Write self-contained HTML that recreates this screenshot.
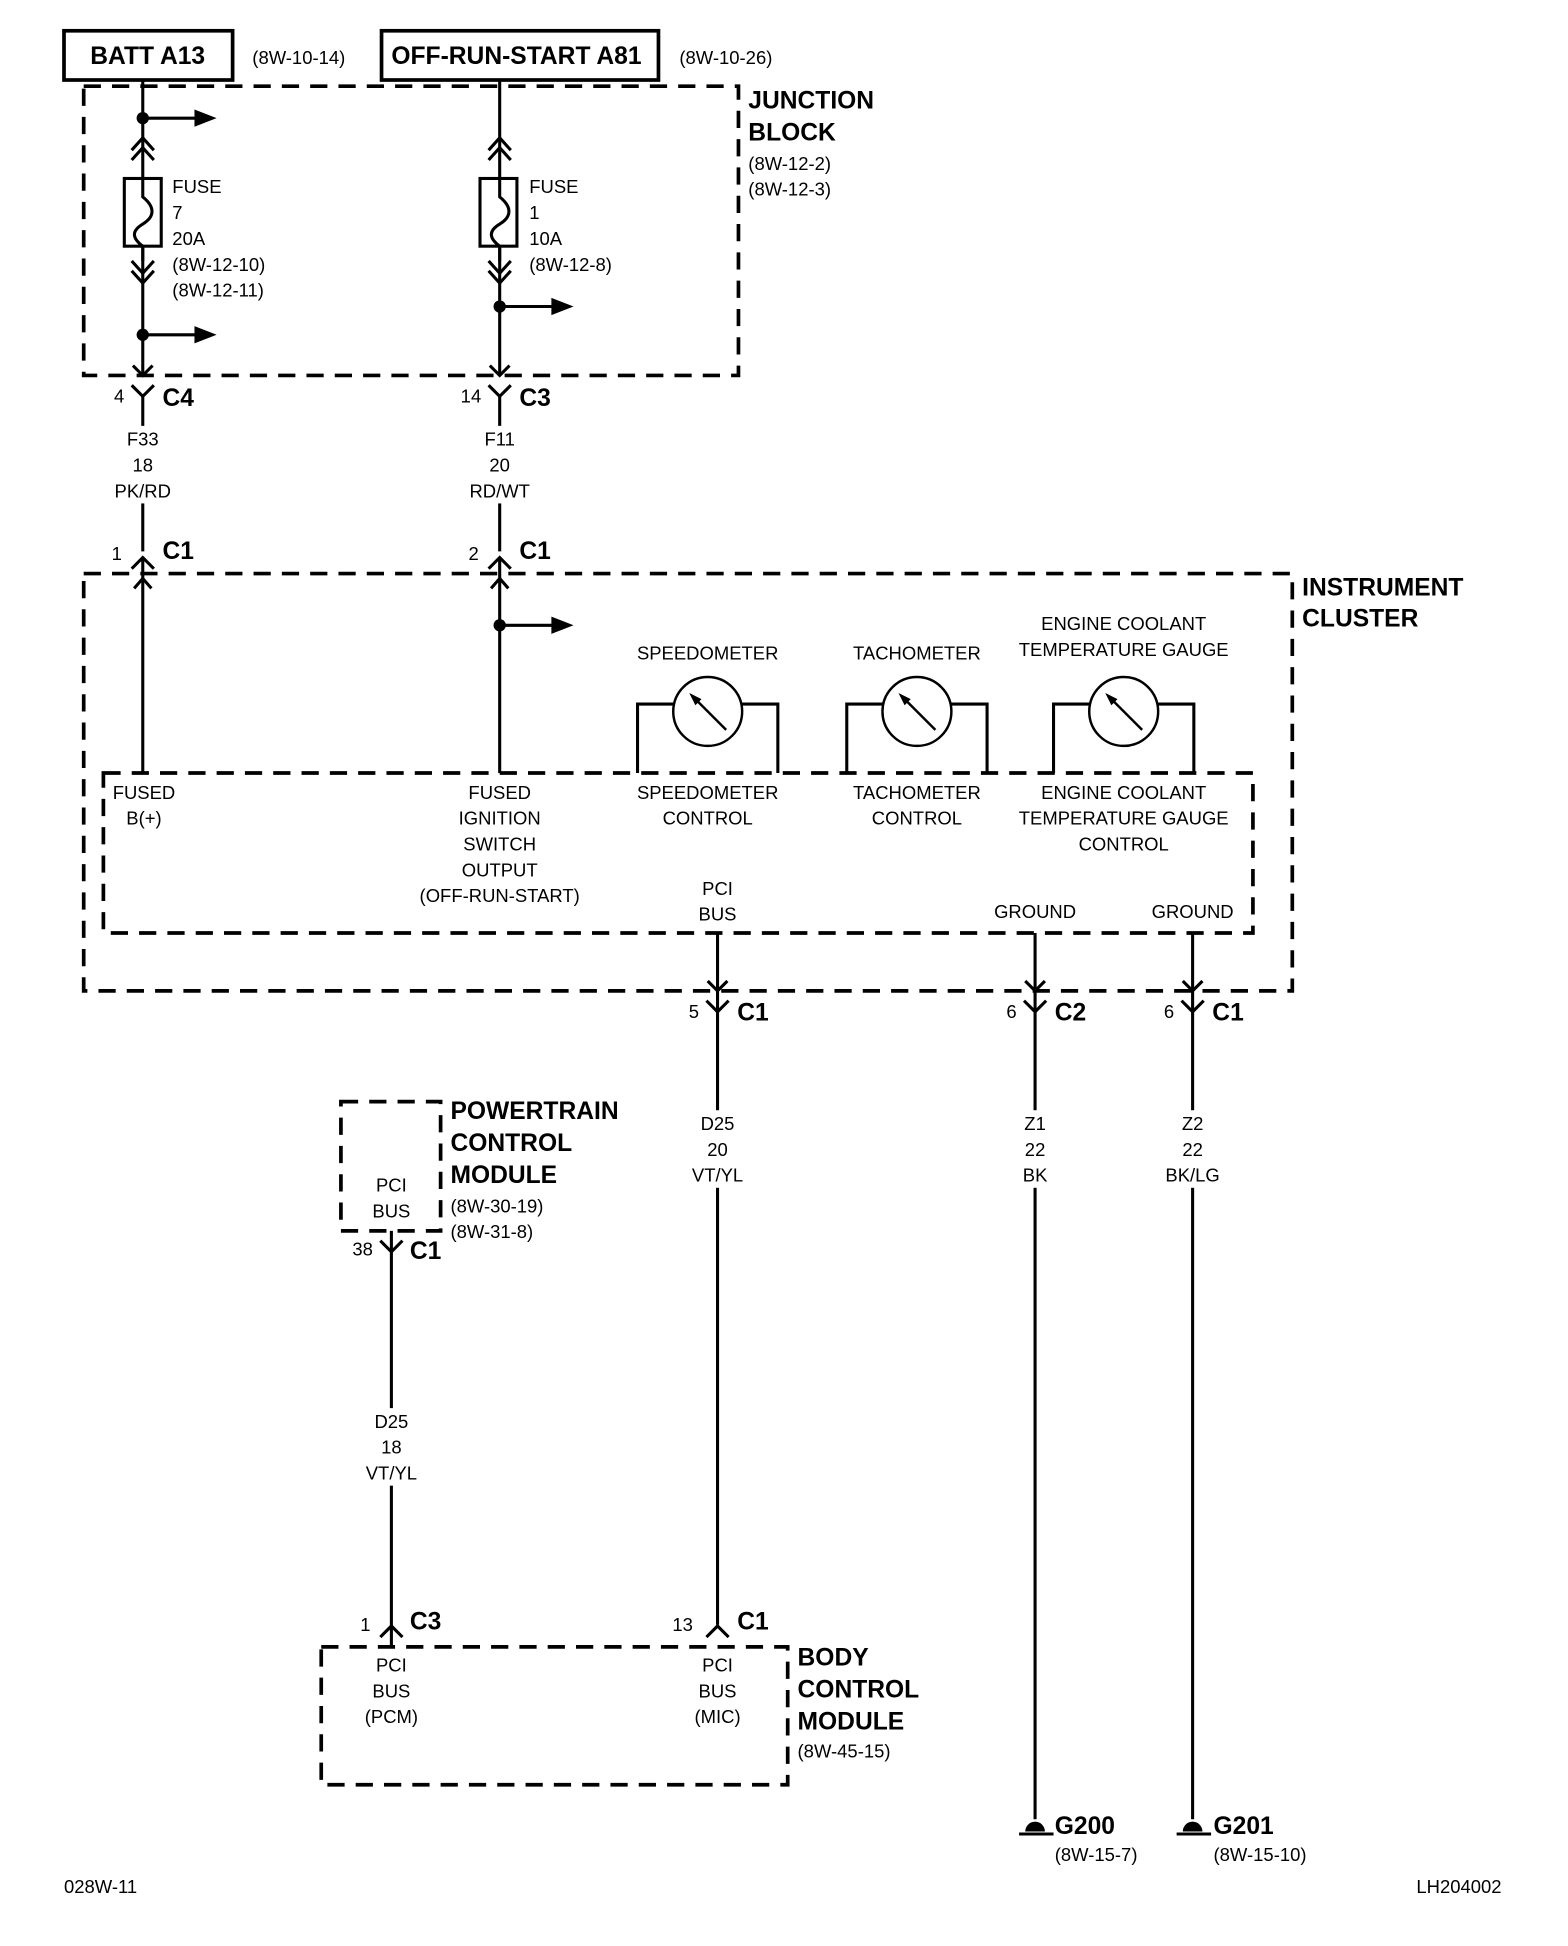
<!DOCTYPE html>
<html><head><meta charset="utf-8"><style>
html,body{margin:0;padding:0;background:#fff}
svg{display:block}
text{font-family:"Liberation Sans Narrow","Liberation Sans",sans-serif;fill:#000;font-size:15px}
.b{font-weight:bold;font-size:20px}
.m{text-anchor:middle}
.e{text-anchor:end}
</style></head><body>
<svg width="1568" height="1946" viewBox="0 0 1274 1581" preserveAspectRatio="none" xmlns="http://www.w3.org/2000/svg">
<g fill="none" stroke="#000" stroke-width="2.5">
<rect x="52" y="25" width="137" height="40" stroke-width="3"/>
<rect x="310" y="25" width="225" height="40" stroke-width="3"/>
<g stroke-dasharray="14,9" stroke-width="3">
<rect x="68" y="70" width="532" height="235"/>
<rect x="68" y="466" width="982" height="339"/>
<rect x="84" y="628" width="934" height="130"/>
<rect x="277" y="895" width="81" height="105"/>
<rect x="261" y="1338" width="379" height="112"/>
</g>
<path d="M116 65V305M116 96H160M116 272H160"/>
<path d="M107 122L116 112L125 122M107 130L116 120L125 130"/>
<path d="M107 212L116 222L125 212M107 220L116 230L125 220"/>
<rect x="101" y="145" width="30" height="55" fill="#fff"/>
<path d="M116 145V160C126 168 126 176 116 182C106 188 108 194 116 200"/>
<path d="M116 200V212"/>
<path d="M108 297L116 305L124 297"/>
<path d="M406 65V305M406 249H450"/>
<path d="M397 122L406 112L415 122M397 130L406 120L415 130"/>
<path d="M397 212L406 222L415 212M397 220L406 230L415 220"/>
<rect x="390" y="145" width="30" height="55" fill="#fff"/>
<path d="M406 145V160C416 168 416 176 406 182C396 188 398 194 406 200"/>
<path d="M406 200V212"/>
<path d="M398 297L406 305L414 297"/>
<path d="M116 322V448M107 313L116 322L125 313"/>
<path d="M406 322V448M397 313L406 322L415 313"/>
<path d="M107 462L116 453L125 462M116 453V628"/>
<path d="M397 462L406 453L415 462M406 453V628"/>
<path d="M109 478L116 470L123 478"/>
<path d="M399 478L406 470L413 478"/>
<path d="M406 508H450"/>
<path d="M547 572H518V628M603 572H632V628"/>
<path d="M717 572H688V628M773 572H802V628"/>
<path d="M885 572H856V628M941 572H970V628"/>
<path d="M583 758V1320M841 758V1478M969 758V1478"/>
<path d="M575 797L583 805L591 797M833 797L841 805L849 797M961 797L969 805L977 797"/>
<path d="M574 813L583 822L592 813M832 813L841 822L850 813M960 813L969 822L978 813"/>
<path d="M309 1008L318 1017L327 1008M318 1000V1338"/>
<path d="M309 1330L318 1321L327 1330M574 1330L583 1321L592 1330"/>
<path d="M828 1490H856M956 1490H984"/>
</g>
<g fill="#fff" stroke="none">
<rect x="90" y="346" width="52" height="63"/>
<rect x="378" y="346" width="56" height="63"/>
<rect x="558" y="902" width="50" height="63"/>
<rect x="820" y="902" width="42" height="63"/>
<rect x="944" y="902" width="50" height="63"/>
<rect x="293" y="1144" width="50" height="63"/>
</g>
<g fill="#000">
<circle cx="116" cy="96" r="5"/><circle cx="116" cy="272" r="5"/><circle cx="406" cy="249" r="5"/><circle cx="406" cy="508" r="5"/>
<path d="M158 89L176 96L158 103Z"/><path d="M158 265L176 272L158 279Z"/><path d="M448 242L466 249L448 256Z"/><path d="M448 501L466 508L448 515Z"/>
<path d="M833 1488A8 8 0 0 1 849 1488Z"/><path d="M961 1488A8 8 0 0 1 977 1488Z"/>
</g>
<g fill="#fff" stroke="#000" stroke-width="2"><circle cx="575" cy="578" r="28"/><circle cx="745" cy="578" r="28"/><circle cx="913" cy="578" r="28"/></g>
<g fill="none" stroke="#000" stroke-width="2"><path d="M590 593L563 566M760 593L733 566M928 593L901 566"/></g>
<g fill="#000"><path d="M560 563L570 568L565 573Z"/><path d="M730 563L740 568L735 573Z"/><path d="M898 563L908 568L903 573Z"/></g>

<text class="b m" x="120" y="52">BATT A13</text>
<text x="205" y="52">(8W-10-14)</text>
<text class="b" x="318" y="52">OFF-RUN-START A81</text>
<text x="552" y="52">(8W-10-26)</text>
<text class="b" x="608" y="88">JUNCTION</text>
<text class="b" x="608" y="114">BLOCK</text>
<text x="608" y="138">(8W-12-2)</text>
<text x="608" y="159">(8W-12-3)</text>
<text x="140" y="157">FUSE</text><text x="140" y="178">7</text><text x="140" y="199">20A</text><text x="140" y="220">(8W-12-10)</text><text x="140" y="241">(8W-12-11)</text>
<text x="430" y="157">FUSE</text><text x="430" y="178">1</text><text x="430" y="199">10A</text><text x="430" y="220">(8W-12-8)</text>
<text class="e" x="101" y="327">4</text><text class="b" x="132" y="330">C4</text>
<text class="e" x="391" y="327">14</text><text class="b" x="422" y="330">C3</text>
<text class="m" x="116" y="362">F33</text><text class="m" x="116" y="383">18</text><text class="m" x="116" y="404">PK/RD</text>
<text class="m" x="406" y="362">F11</text><text class="m" x="406" y="383">20</text><text class="m" x="406" y="404">RD/WT</text>
<text class="e" x="99" y="455">1</text><text class="b" x="132" y="454">C1</text>
<text class="e" x="389" y="455">2</text><text class="b" x="422" y="454">C1</text>
<text class="b" x="1058" y="484">INSTRUMENT</text><text class="b" x="1058" y="509">CLUSTER</text>
<text class="m" x="575" y="536">SPEEDOMETER</text>
<text class="m" x="745" y="536">TACHOMETER</text>
<text class="m" x="913" y="512">ENGINE COOLANT</text><text class="m" x="913" y="533">TEMPERATURE GAUGE</text>
<text class="m" x="117" y="649">FUSED</text><text class="m" x="117" y="670">B(+)</text>
<text class="m" x="406" y="649">FUSED</text><text class="m" x="406" y="670">IGNITION</text><text class="m" x="406" y="691">SWITCH</text><text class="m" x="406" y="712">OUTPUT</text><text class="m" x="406" y="733">(OFF-RUN-START)</text>
<text class="m" x="575" y="649">SPEEDOMETER</text><text class="m" x="575" y="670">CONTROL</text>
<text class="m" x="745" y="649">TACHOMETER</text><text class="m" x="745" y="670">CONTROL</text>
<text class="m" x="913" y="649">ENGINE COOLANT</text><text class="m" x="913" y="670">TEMPERATURE GAUGE</text><text class="m" x="913" y="691">CONTROL</text>
<text class="m" x="583" y="727">PCI</text><text class="m" x="583" y="748">BUS</text>
<text class="m" x="841" y="746">GROUND</text><text class="m" x="969" y="746">GROUND</text>
<text class="e" x="568" y="827">5</text><text class="b" x="599" y="829">C1</text>
<text class="e" x="826" y="827">6</text><text class="b" x="857" y="829">C2</text>
<text class="e" x="954" y="827">6</text><text class="b" x="985" y="829">C1</text>
<text class="m" x="583" y="918">D25</text><text class="m" x="583" y="939">20</text><text class="m" x="583" y="960">VT/YL</text>
<text class="m" x="841" y="918">Z1</text><text class="m" x="841" y="939">22</text><text class="m" x="841" y="960">BK</text>
<text class="m" x="969" y="918">Z2</text><text class="m" x="969" y="939">22</text><text class="m" x="969" y="960">BK/LG</text>
<text class="b" x="366" y="909">POWERTRAIN</text><text class="b" x="366" y="935">CONTROL</text><text class="b" x="366" y="961">MODULE</text>
<text x="366" y="985">(8W-30-19)</text><text x="366" y="1006">(8W-31-8)</text>
<text class="m" x="318" y="968">PCI</text><text class="m" x="318" y="989">BUS</text>
<text class="e" x="303" y="1020">38</text><text class="b" x="333" y="1023">C1</text>
<text class="m" x="318" y="1160">D25</text><text class="m" x="318" y="1181">18</text><text class="m" x="318" y="1202">VT/YL</text>
<text class="e" x="301" y="1325">1</text><text class="b" x="333" y="1324">C3</text>
<text class="e" x="563" y="1325">13</text><text class="b" x="599" y="1324">C1</text>
<text class="m" x="318" y="1358">PCI</text><text class="m" x="318" y="1379">BUS</text><text class="m" x="318" y="1400">(PCM)</text>
<text class="m" x="583" y="1358">PCI</text><text class="m" x="583" y="1379">BUS</text><text class="m" x="583" y="1400">(MIC)</text>
<text class="b" x="648" y="1353">BODY</text><text class="b" x="648" y="1379">CONTROL</text><text class="b" x="648" y="1405">MODULE</text>
<text x="648" y="1428">(8W-45-15)</text>
<text class="b" x="857" y="1490">G200</text><text x="857" y="1512">(8W-15-7)</text>
<text class="b" x="986" y="1490">G201</text><text x="986" y="1512">(8W-15-10)</text>
<text x="52" y="1538">028W-11</text>
<text class="e" x="1220" y="1538">LH204002</text>
</svg>
</body></html>
